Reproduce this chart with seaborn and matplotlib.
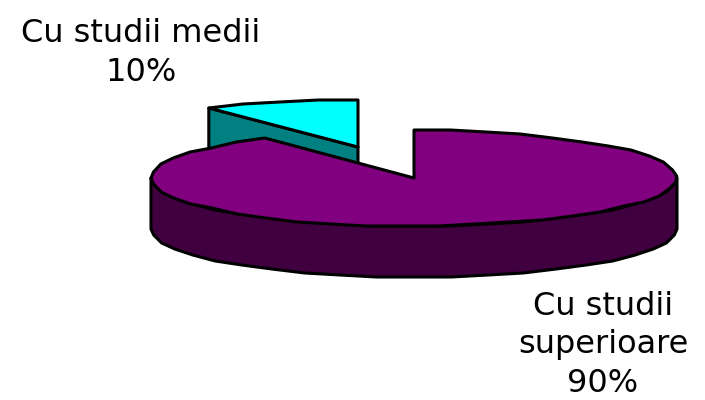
import numpy as np
import seaborn as sns
import matplotlib.pyplot as plt

labels = ['Cu studii medii\n10%', 'Cu studii\nsuperioare\n90%']
shares = [9.6, 90.4]
top_colors = ['#00ffff', '#800080']
cut_colors = ['#008080', '#800080']
wall_colors = ['#008080', '#400040']

sns.set_theme(style='white')
plt.rcParams['font.family'] = ['DejaVu Sans']

cx, cy = 414, 178
a, b = 263, 48
depth = 51


def rim(start, end, ox=0, oy=0, step=8):
    # angle measured clockwise from the top of the pie, coarse steps like the old picture
    n = max(2, int(round((end - start) / step)) + 1)
    t = np.radians(np.linspace(start, end, n))
    x = cx + ox + a * np.sin(t)
    y = cy + oy - b * np.cos(t)
    return x, np.round(y / 2) * 2


fig = plt.figure(figsize=(7.05, 4.0), dpi=100)
ax = fig.add_axes([0, 0, 1, 1])
ax.set_xlim(0, 705)
ax.set_ylim(400, 0)
ax.axis('off')

edge = dict(edgecolor='black', linewidth=2.2, joinstyle='round')

# small slice, pulled out of the pie
big_deg = shares[1] / sum(shares) * 360
ox, oy = -56, -31
x, y = rim(big_deg, 360, ox, oy)
ax.fill([x[0], cx + ox, cx + ox, x[0]], [y[0], cy + oy, cy + oy + depth, y[0] + depth],
        facecolor=cut_colors[0], zorder=1, **edge)
ax.fill(np.r_[cx + ox, x], np.r_[cy + oy, y], facecolor=top_colors[0], zorder=2, **edge)

# big slice: outer wall on the front half, then the top
x, y = rim(90, 270)
ax.fill(np.r_[x, x[::-1]], np.r_[y, y[::-1] + depth], facecolor=wall_colors[1], zorder=3, **edge)
x, y = rim(0, big_deg)
ax.fill(np.r_[cx, x], np.r_[cy, y], facecolor=top_colors[1], zorder=4, **edge)

ax.text(141, 53, labels[0], ha='center', va='center', color='black', fontsize=23, linespacing=1.3)
ax.text(603, 345, labels[1], ha='center', va='center', color='black', fontsize=23, linespacing=1.3)

plt.savefig('out.png', dpi=100)
